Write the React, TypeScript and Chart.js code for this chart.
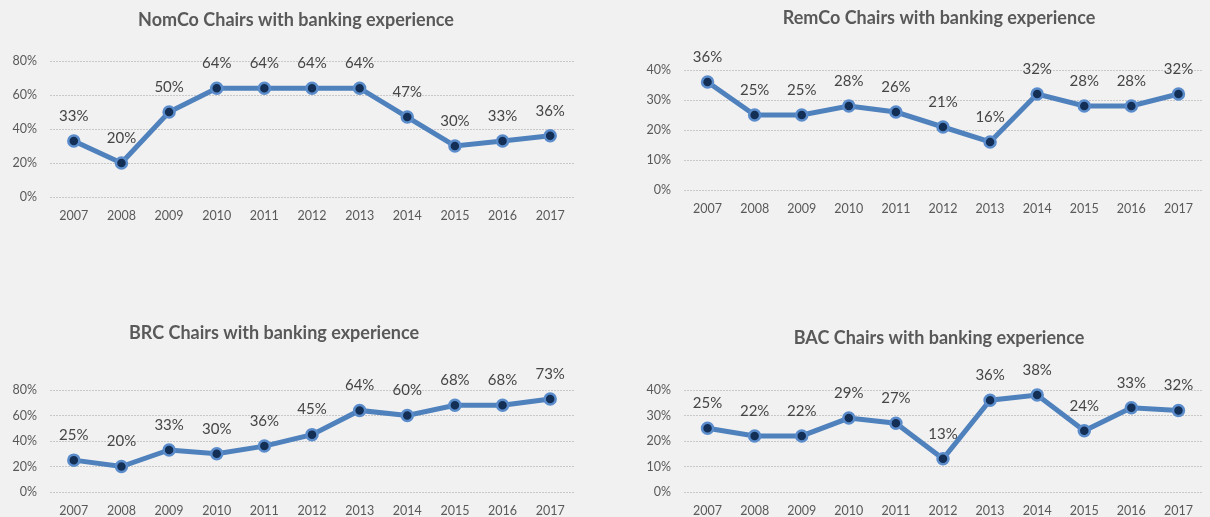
import React, { useEffect, useRef } from "react";
import { Chart, registerables } from "chart.js";

Chart.register(...registerables);

const years = ["2007", "2008", "2009", "2010", "2011", "2012", "2013", "2014", "2015", "2016", "2017"];

const nomcoValues = [33, 20, 50, 64, 64, 64, 64, 47, 30, 33, 36];
const remcoValues = [36, 25, 25, 28, 26, 21, 16, 32, 28, 28, 32];
const brcValues = [25, 20, 33, 30, 36, 45, 64, 60, 68, 68, 73];
const bacValues = [25, 22, 22, 29, 27, 13, 36, 38, 24, 33, 32];

const nomcoTitle = "NomCo Chairs with banking experience";
const remcoTitle = "RemCo Chairs with banking experience";
const brcTitle = "BRC Chairs with banking experience";
const bacTitle = "BAC Chairs with banking experience";

const axisMax80 = 80;
const axisStep20 = 20;
const axisMax40 = 40;
const axisStep10 = 10;

const FONT = "Lato, 'Open Sans', sans-serif";
const BG = "#f1f1f1";

type Panel = {
  title: string;
  values: number[];
  max: number;
  step: number;
  left: number;
  top: number;
  width: number;
  height: number;
  area: { left: number; right: number; top: number; bottom: number };
  titleX: number;
  titleY: number;
};

const panels: Panel[] = [
  {
    title: nomcoTitle, values: nomcoValues, max: axisMax80, step: axisStep20,
    left: 0, top: 0, width: 605, height: 240,
    area: { left: 50, right: 574, top: 61, bottom: 197 },
    titleX: 296, titleY: 20,
  },
  {
    title: remcoTitle, values: remcoValues, max: axisMax40, step: axisStep10,
    left: 610, top: 0, width: 600, height: 240,
    area: { left: 74, right: 598, top: 70, bottom: 190 },
    titleX: 329, titleY: 18,
  },
  {
    title: brcTitle, values: brcValues, max: axisMax80, step: axisStep20,
    left: 0, top: 300, width: 605, height: 217,
    area: { left: 50, right: 574, top: 90, bottom: 192 },
    titleX: 274, titleY: 33,
  },
  {
    title: bacTitle, values: bacValues, max: axisMax40, step: axisStep10,
    left: 610, top: 300, width: 600, height: 217,
    area: { left: 74, right: 598, top: 90, bottom: 192 },
    titleX: 329, titleY: 38,
  },
];

function LinePanel({ p }: { p: Panel }) {
  const ref = useRef<HTMLCanvasElement | null>(null);
  useEffect(() => {
    if (!ref.current) return;
    const textPlugin = {
      id: "panelText",
      afterDatasetsDraw(chart: any) {
        const ctx = chart.ctx;
        const meta = chart.getDatasetMeta(0);
        ctx.save();
        ctx.font = `15px ${FONT}`;
        ctx.fillStyle = "#454545";
        ctx.textAlign = "center";
        ctx.textBaseline = "middle";
        meta.data.forEach((pt: any, i: number) => {
          ctx.fillText(p.values[i] + "%", pt.x, pt.y - 25);
        });
        ctx.font = `bold 18px ${FONT}`;
        ctx.fillStyle = "#595959";
        ctx.fillText(p.title, p.titleX, p.titleY);
        ctx.restore();
      },
    };
    const chart = new Chart(ref.current, {
      type: "line",
      data: {
        labels: years,
        datasets: [
          {
            data: p.values,
            borderColor: "#4f81bd",
            borderWidth: 5,
            pointRadius: 5.5,
            pointBorderWidth: 2.5,
            pointBackgroundColor: "#142f55",
            pointBorderColor: "#5a8ccc",
            tension: 0,
            clip: false as any,
          },
        ],
      },
      options: {
        responsive: false,
        animation: false,
        devicePixelRatio: 1,
        layout: {
          padding: {
            top: p.area.top,
            right: p.width - p.area.right,
            left: 0,
            bottom: 0,
          },
        },
        plugins: {
          legend: { display: false },
          tooltip: { enabled: false },
          title: { display: false },
        },
        scales: {
          x: {
            type: "category",
            offset: true,
            grid: { display: false, drawTicks: false },
            border: { display: false },
            ticks: {
              padding: 11,
              color: "#595959",
              font: { family: FONT, size: 12.5 },
              maxRotation: 0,
              autoSkip: false,
            },
            afterFit: (s: any) => {
              s.height = p.height - p.area.bottom;
            },
          },
          y: {
            min: 0,
            max: p.max,
            grid: { color: "#c8c8c8", lineWidth: 1, drawTicks: false },
            border: { display: false, dash: [2, 1] },
            ticks: {
              stepSize: p.step,
              padding: 13,
              color: "#595959",
              font: { family: FONT, size: 12.5 },
              callback: (v: any) => v + "%",
            },
            afterFit: (s: any) => {
              s.width = p.area.left;
            },
          },
        },
      },
      plugins: [textPlugin],
    } as any);
    return () => chart.destroy();
  }, [p]);
  return (
    <canvas
      ref={ref}
      width={p.width}
      height={p.height}
      style={{ position: "absolute", left: p.left, top: p.top, width: p.width, height: p.height }}
    />
  );
}

export default function App() {
  return (
    <div style={{ position: "absolute", left: 0, top: 0, width: 1210, height: 517, background: BG, overflow: "hidden" }}>
      {panels.map((p, i) => (
        <LinePanel key={i} p={p} />
      ))}
    </div>
  );
}
